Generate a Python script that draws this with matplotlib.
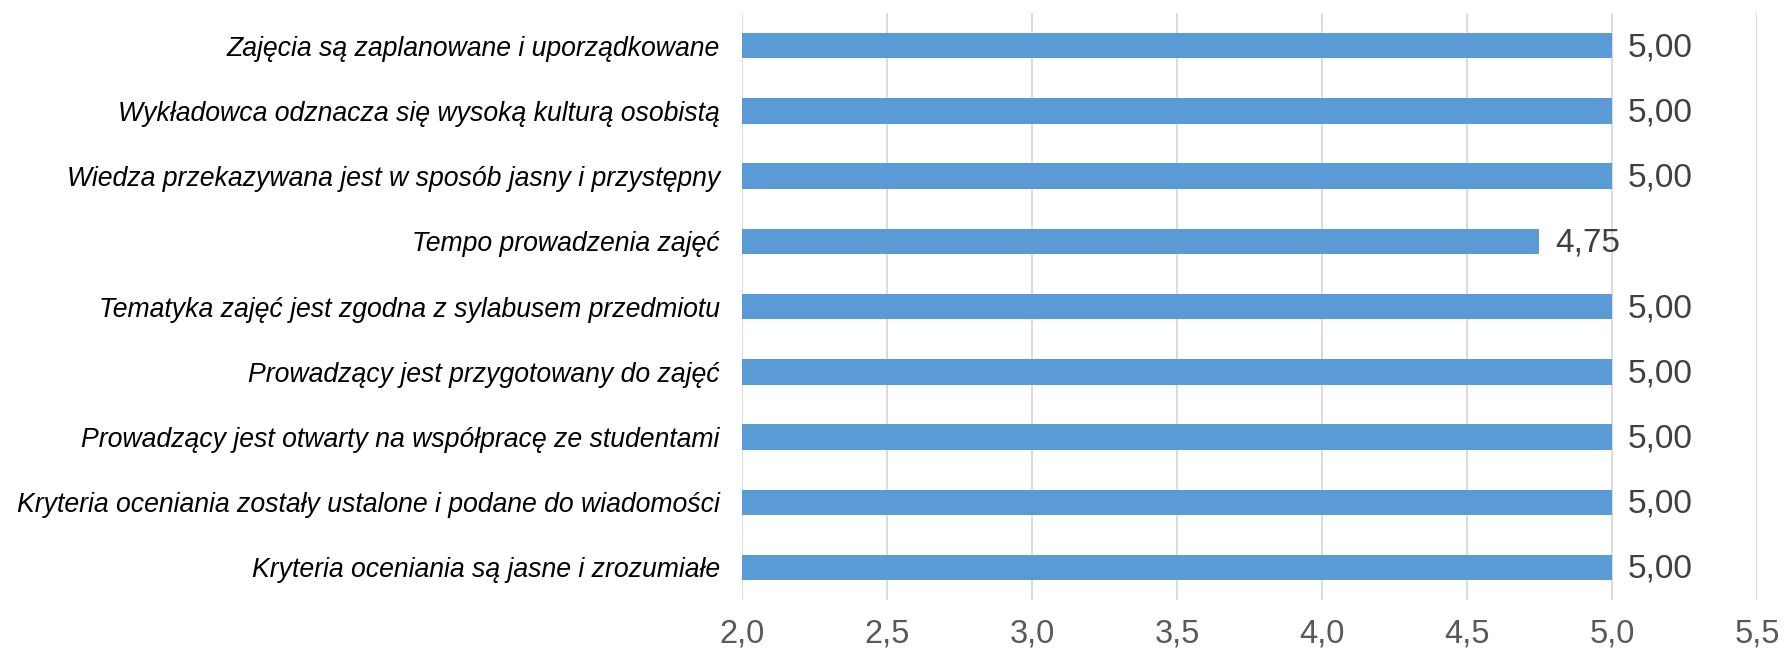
import numpy as np
import matplotlib
matplotlib.use("Agg")
import matplotlib.pyplot as plt

plt.rcParams['font.family'] = ['Liberation Sans', 'DejaVu Sans']

categories = [
    "Zajęcia są zaplanowane i uporządkowane",
    "Wykładowca odznacza się wysoką kulturą osobistą",
    "Wiedza przekazywana jest w sposób jasny i przystępny",
    "Tempo prowadzenia zajęć",
    "Tematyka zajęć jest zgodna z sylabusem przedmiotu",
    "Prowadzący jest przygotowany do zajęć",
    "Prowadzący jest otwarty na współpracę ze studentami",
    "Kryteria oceniania zostały ustalone i podane do wiadomości",
    "Kryteria oceniania są jasne i zrozumiałe",
]
values = [5.00, 5.00, 5.00, 4.75, 5.00, 5.00, 5.00, 5.00, 5.00]
xticks = [2.0, 2.5, 3.0, 3.5, 4.0, 4.5, 5.0, 5.5]

fig, ax = plt.subplots(figsize=(17.85, 6.53), dpi=100)
fig.subplots_adjust(left=0.4157, right=0.9843, top=0.980, bottom=0.081)

y = np.arange(len(categories))
ax.barh(y, [v - 2.0 for v in values], left=2.0, height=0.39, color='#5B9BD5', zorder=3)

for yi, v in zip(y, values):
    ax.text(v + 0.055, yi + 0.03, f"{v:.2f}".replace('.', ','), va='center', ha='left',
            fontsize=24, color='#404040')

ax.set_ylim(len(categories) - 0.5, -0.5)
ax.set_xlim(2.0, 5.5)
ax.set_yticks(y)
ax.set_yticklabels(categories, fontsize=19.2, fontstyle='italic', color='black')
ax.set_xticks(xticks)
ax.set_xticklabels([f"{t:.1f}".replace('.', ',') for t in xticks], fontsize=23.5, color='#595959')
ax.tick_params(axis='y', length=0, pad=16)
ax.tick_params(axis='x', length=0, pad=13)
ax.grid(axis='x', color='#D9D9D9', linewidth=1.3, zorder=0)
for s in ax.spines.values():
    s.set_visible(False)

plt.savefig("out.png")
